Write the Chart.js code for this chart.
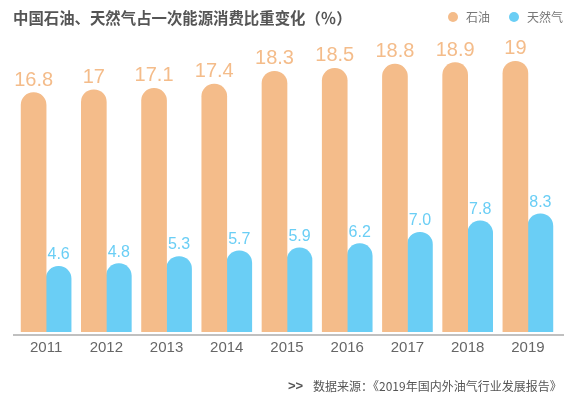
<!DOCTYPE html>
<html>
<head>
<meta charset="utf-8">
<script src="https://cdn.jsdelivr.net/npm/chart.js@4/dist/chart.umd.min.js"></script>
<style>
  html, body { margin: 0; padding: 0; background: #fff; }
  #wrap { width: 572px; height: 399px; position: relative; }
</style>
</head>
<body>
<div id="wrap"><canvas id="graph"></canvas></div>
<script>
var years = ["2011", "2012", "2013", "2014", "2015", "2016", "2017", "2018", "2019"];
var oil = [16.8, 17, 17.1, 17.4, 18.3, 18.5, 18.8, 18.9, 19];
var gas = [4.6, 4.8, 5.3, 5.7, 5.9, 6.2, 7.0, 7.8, 8.3];
var oilLabels = ["16.8", "17", "17.1", "17.4", "18.3", "18.5", "18.8", "18.9", "19"];
var gasLabels = ["4.6", "4.8", "5.3", "5.7", "5.9", "6.2", "7.0", "7.8", "8.3"];

var seriesNames = ["石油", "天然气"];
var orange = "#F4BC8A";
var blue = "#6ACEF5";

var title = "中国石油、天然气占一次能源消费比重变化（％）";
var source = "数据来源：《2019年国内外油气行业发展报告》";

var cjk = "'Noto Sans CJK SC', 'Noto Sans', sans-serif";
var latin = "'Liberation Sans', Arial, sans-serif";

// title, legend, value labels, axis line and source note
var decor = {
  id: 'decor',
  afterDatasetsDraw: function(chart) {
    var ctx = chart.ctx;
    var area = chart.chartArea;
    ctx.save();

    // axis line a little below the bars
    ctx.strokeStyle = "#ababab";
    ctx.lineWidth = 1.5;
    ctx.beginPath();
    ctx.moveTo(13, area.bottom + 3);
    ctx.lineTo(564, area.bottom + 3);
    ctx.stroke();

    // values above bars
    ctx.textAlign = "center";
    ctx.textBaseline = "alphabetic";
    var sets = [[oilLabels, orange, "20px " + latin], [gasLabels, blue, "16px " + latin]];
    sets.forEach(function(s, i) {
      var meta = chart.getDatasetMeta(i);
      ctx.fillStyle = s[1];
      ctx.font = s[2];
      meta.data.forEach(function(bar, j) {
        ctx.fillText(s[0][j], bar.x, bar.y - 7);
      });
    });

    // title
    ctx.textAlign = "left";
    ctx.textBaseline = "middle";
    ctx.fillStyle = "#555";
    ctx.font = "bold 15.4px " + cjk;
    ctx.fillText(title, 13, 18);

    // legend
    var legendX = [453, 514];
    var legendColors = [orange, blue];
    ctx.font = "12px " + cjk;
    for (var k = 0; k < 2; k++) {
      ctx.fillStyle = legendColors[k];
      ctx.beginPath();
      ctx.arc(legendX[k], 17, 5, 0, Math.PI * 2);
      ctx.fill();
      ctx.fillStyle = "#777";
      ctx.fillText(seriesNames[k], legendX[k] + 13, 17);
    }

    // source
    ctx.fillStyle = "#555";
    ctx.font = "bold 13px " + latin;
    ctx.fillText(">>", 288, 386);
    ctx.font = "12px " + cjk;
    ctx.fillText(source, 313, 386);

    ctx.restore();
  }
};

var ctx1 = document.getElementById("graph").getContext('2d');

var chart = new Chart(ctx1, {
  type: 'bar',
  data: {
    labels: years,
    datasets: [
      {
        label: seriesNames[0],
        data: oil,
        backgroundColor: orange,
        borderRadius: { topLeft: 13, topRight: 13, bottomLeft: 0, bottomRight: 0 },
        barThickness: 25
      },
      {
        label: seriesNames[1],
        data: gas,
        backgroundColor: blue,
        borderRadius: { topLeft: 13, topRight: 13, bottomLeft: 0, bottomRight: 0 },
        barThickness: 25
      }
    ]
  },
  options: {
    responsive: true,
    maintainAspectRatio: false,
    animation: false,
    categoryPercentage: 0.9,
    layout: { padding: { left: 16, right: 14, top: 47, bottom: 35 } },
    plugins: {
      legend: { display: false },
      tooltip: { enabled: false }
    },
    scales: {
      x: {
        grid: { display: false, drawTicks: false },
        border: { display: false },
        ticks: {
          color: "#666",
          font: { family: latin, size: 15 },
          padding: 7
        }
      },
      y: {
        display: false,
        min: 0,
        max: 20
      }
    }
  },
  plugins: [decor]
});
</script>
</body>
</html>
